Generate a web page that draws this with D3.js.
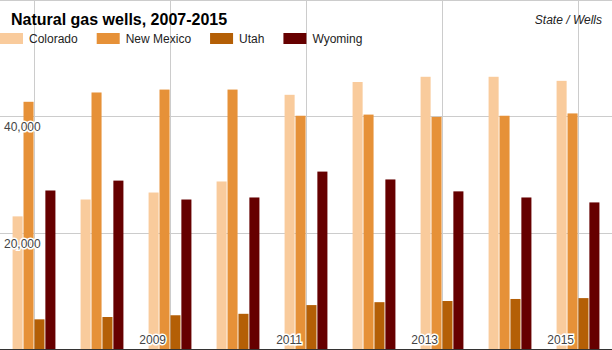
<!DOCTYPE html>
<html>
<head>
<meta charset="utf-8">
<script src="https://cdn.jsdelivr.net/npm/d3@7"></script>
<style>
    body { margin: 0; background: #fff; }
    svg { display: block; font-family: "Liberation Sans", Arial, sans-serif; }
</style>
</head>
<body>
<div id="chart-area"></div>
<script>

// data
let years = ["2007", "2008", "2009", "2010", "2011", "2012", "2013", "2014", "2015"];
let states = ["Colorado", "New Mexico", "Utah", "Wyoming"];
let colorado = [22800, 25700, 26900, 28800, 43700, 45900, 46800, 46800, 46100];
let newMexico = [42500, 44100, 44600, 44600, 40100, 40300, 39900, 40100, 40500];
let utah = [5100, 5500, 5800, 6050, 7550, 8050, 8250, 8600, 8750];
let wyoming = [27250, 28950, 25700, 26050, 30500, 29150, 27100, 26050, 25200];
let colors = ["#f9cb9c", "#e69138", "#b45f06", "#660000"];
let yTicks = [20000, 40000];
let yearTicks = ["2009", "2011", "2013", "2015"];
let gridYears = ["2007", "2009", "2011", "2013", "2015"];

let series = [colorado, newMexico, utah, wyoming];
let displayData = years.map((y, i) => ({
    year: y,
    values: states.map((s, j) => ({state: s, value: series[j][i]}))
}));

let width = 612, height = 350;

let svg = d3.select("#chart-area").append("svg")
    .attr("width", width)
    .attr("height", height);

// scales
let x0 = d3.scaleBand()
    .domain(years)
    .range([0, width])
    .paddingInner(0.37)
    .paddingOuter(0.185);

let x1 = d3.scaleBand()
    .domain(states)
    .range([0, x0.bandwidth()])
    .paddingInner(0.08);

let y = d3.scaleLinear()
    .domain([0, 60000])
    .range([349, 0]);

let color = d3.scaleOrdinal().domain(states).range(colors);

// gridlines
svg.append("g")
    .selectAll("line")
    .data([20000, 40000, 60000])
    .enter().append("line")
    .attr("x1", 0).attr("x2", width)
    .attr("y1", d => Math.round(y(d)) + 0.5)
    .attr("y2", d => Math.round(y(d)) + 0.5)
    .attr("stroke", "#cccccc");

svg.append("g")
    .selectAll("line")
    .data(gridYears)
    .enter().append("line")
    .attr("x1", d => Math.round(x0(d) + x0.bandwidth() / 2) + 0.5)
    .attr("x2", d => Math.round(x0(d) + x0.bandwidth() / 2) + 0.5)
    .attr("y1", 0).attr("y2", height)
    .attr("stroke", "#cccccc");

// bars
let groups = svg.append("g")
    .selectAll("g")
    .data(displayData)
    .enter().append("g")
    .attr("transform", d => "translate(" + x0(d.year) + ",0)");

groups.selectAll("rect")
    .data(d => d.values)
    .enter().append("rect")
    .attr("x", d => x1(d.state))
    .attr("width", x1.bandwidth())
    .attr("y", d => y(d.value))
    .attr("height", d => y(0) - y(d.value))
    .attr("fill", d => color(d.state));

// baseline
svg.append("line")
    .attr("x1", 0).attr("x2", width)
    .attr("y1", y(0) + 0.5).attr("y2", y(0) + 0.5)
    .attr("stroke", "#333333");

// y tick labels, inside the plot with a white halo
svg.append("g")
    .selectAll("text")
    .data(yTicks)
    .enter().append("text")
    .attr("x", 4)
    .attr("y", d => y(d) + 15)
    .attr("font-size", 12)
    .attr("fill", "#444444")
    .attr("stroke", "#ffffff")
    .attr("stroke-width", 3)
    .attr("paint-order", "stroke")
    .text(d => d3.format(",")(d));

// year labels, right aligned just left of the gridline
svg.append("g")
    .selectAll("text")
    .data(yearTicks)
    .enter().append("text")
    .attr("x", d => x0(d) + x0.bandwidth() / 2 - 4)
    .attr("y", 344)
    .attr("text-anchor", "end")
    .attr("font-size", 12)
    .attr("fill", "#444444")
    .attr("stroke", "#ffffff")
    .attr("stroke-width", 3)
    .attr("paint-order", "stroke")
    .text(d => d);

// title
svg.append("text")
    .attr("x", 11)
    .attr("y", 25)
    .attr("font-size", 16)
    .attr("font-weight", "bold")
    .attr("fill", "#000000")
    .text("Natural gas wells, 2007-2015");

svg.append("text")
    .attr("x", 602)
    .attr("y", 24)
    .attr("text-anchor", "end")
    .attr("font-size", 12)
    .attr("font-style", "italic")
    .attr("fill", "#222222")
    .text("State / Wells");

// legend, laid out left to right
let legend = svg.append("g");
let lx = 0;
states.forEach(s => {
    legend.append("rect")
        .attr("x", lx).attr("y", 33)
        .attr("width", 23).attr("height", 11)
        .attr("fill", color(s));
    let t = legend.append("text")
        .attr("x", lx + 29)
        .attr("y", 43)
        .attr("font-size", 12)
        .attr("fill", "#222222")
        .text(s);
    lx += 29 + t.node().getComputedTextLength() + 19;
});

</script>
</body>
</html>
